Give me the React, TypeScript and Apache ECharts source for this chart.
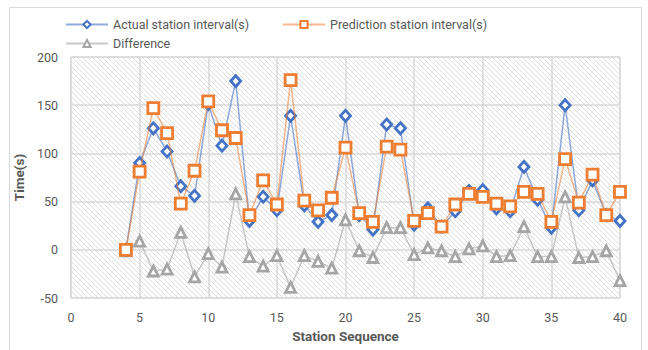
import React, { useEffect, useRef } from "react";
import * as echarts from "echarts";

const stations = [4, 5, 6, 7, 8, 9, 10, 11, 12, 13, 14, 15, 16, 17, 18, 19, 20, 21, 22, 23, 24, 25, 26, 27, 28, 29, 30, 31, 32, 33, 34, 35, 36, 37, 38, 39, 40];
const actual = [0, 90, 126, 102, 66, 56, 151, 108, 175, 30, 55, 41, 139, 46, 29, 36, 139, 36, 21, 130, 126, 26, 43, 24, 40, 61, 62, 43, 40, 86, 52, 23, 150, 41, 72, 36, 30];
const predicted = [0, 81, 147, 121, 48, 82, 154, 124, 116, 36, 72, 47, 176, 51, 41, 54, 106, 38, 29, 107, 104, 30, 38, 24, 47, 58, 55, 48, 45, 60, 58, 29, 94, 49, 78, 36, 60];
const difference = [-1, 9, -22, -20, 18, -28, -4, -18, 58, -7, -17, -6, -39, -6, -12, -19, 31, -1, -8, 23, 23, -5, 2, -1, -7, 1, 4, -7, -6, 24, -7, -7, 55, -8, -7, -1, -32];
const seriesNames = ["Actual station interval(s)", "Prediction station interval(s)", "Difference"];
const xTicks = { min: 0, max: 40, interval: 5 };
const yTicks = { min: -50, max: 200, interval: 50 };

const FONT = "'Liberation Sans Narrow', 'Roboto', sans-serif";

const hatchSvg =
  "data:image/svg+xml;utf8," +
  encodeURIComponent(
    '<svg xmlns="http://www.w3.org/2000/svg" width="5" height="5"><rect width="5" height="5" fill="#ffffff"/><path d="M-1,-1 L6,6 M-1,4 L1,6 M4,-1 L6,1" stroke="#dedede" stroke-width="1"/></svg>'
  );

export default function App() {
  const ref = useRef<HTMLDivElement>(null);
  useEffect(() => {
    if (!ref.current) return;
    const chart = echarts.init(ref.current, null, { renderer: "svg" });
    const pair = (ys: number[]) => stations.map((x, i) => [x, ys[i]]);
    const legendBase = {
      itemWidth: 42,
      itemHeight: 9,
      textStyle: { color: "#595959", fontSize: 12.5, fontFamily: FONT },
      padding: 0,
      itemGap: 4,
    };
    chart.setOption({
      animation: false,
      backgroundColor: "#ffffff",
      graphic: [
        {
          type: "rect",
          shape: { x: 9.5, y: 7.5, width: 632, height: 360 },
          style: { fill: "none", stroke: "#d9d9d9", lineWidth: 1 },
          z: -1,
        },
      ],
      legend: [
        { ...legendBase, data: [seriesNames[0]], left: 65, top: 18 },
        { ...legendBase, data: [seriesNames[1]], left: 282, top: 18 },
        { ...legendBase, data: [seriesNames[2]], left: 65, top: 37 },
      ],
      grid: {
        left: 71,
        right: 28,
        top: 57,
        bottom: 52,
        show: true,
        borderColor: "#d9d9d9",
        borderWidth: 1,
        backgroundColor: { image: hatchSvg, repeat: "repeat", imageWidth: 5, imageHeight: 5 },
      },
      xAxis: {
        type: "value",
        min: xTicks.min,
        max: xTicks.max,
        interval: xTicks.interval,
        name: "Station Sequence",
        nameLocation: "middle",
        nameGap: 30,
        nameTextStyle: { color: "#595959", fontSize: 13.5, fontWeight: "bold", fontFamily: FONT },
        axisLine: { show: false },
        axisTick: { show: false },
        axisLabel: { color: "#595959", fontSize: 12.5, margin: 13, fontFamily: FONT },
        splitLine: { show: true, lineStyle: { color: "#d9d9d9", width: 1.5 } },
      },
      yAxis: {
        type: "value",
        min: yTicks.min,
        max: yTicks.max,
        interval: yTicks.interval,
        name: "Time(s)",
        nameLocation: "middle",
        nameGap: 39,
        nameTextStyle: { color: "#595959", fontSize: 13.5, fontWeight: "bold", fontFamily: FONT },
        axisLine: { show: false },
        axisTick: { show: false },
        axisLabel: { color: "#595959", fontSize: 12.5, margin: 13, fontFamily: FONT },
        splitLine: { show: true, lineStyle: { color: "#d9d9d9", width: 1.5 } },
      },
      series: [
        {
          name: seriesNames[0],
          type: "line",
          data: pair(actual),
          symbol: "diamond",
          symbolSize: [10, 11],
          z: 3,
          lineStyle: { color: "rgba(68,114,196,0.6)", width: 1.5 },
          itemStyle: { color: "#ffffff", borderColor: "#4472C4", borderWidth: 2.8 },
        },
        {
          name: seriesNames[1],
          type: "line",
          data: pair(predicted),
          symbol: "rect",
          symbolSize: 11,
          z: 4,
          lineStyle: { color: "rgba(237,125,49,0.55)", width: 1.5 },
          itemStyle: { color: "#ffffff", borderColor: "#ED7D31", borderWidth: 2.8 },
        },
        {
          name: seriesNames[2],
          type: "line",
          data: pair(difference),
          symbol: "triangle",
          symbolSize: 10,
          z: 2,
          lineStyle: { color: "rgba(165,165,165,0.6)", width: 1.5 },
          itemStyle: { color: "#ffffff", borderColor: "#A5A5A5", borderWidth: 2.8 },
        },
      ],
    });
    return () => chart.dispose();
  }, []);
  return <div ref={ref} style={{ width: 648, height: 350, position: "absolute", left: 0, top: 0 }} />;
}
